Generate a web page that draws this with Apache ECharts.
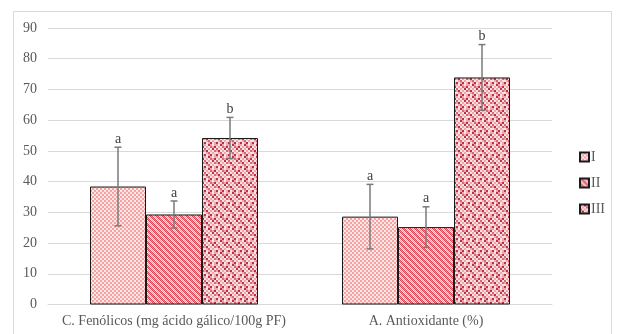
<!DOCTYPE html>
<html>
<head>
<meta charset="utf-8">
<script src="https://cdn.jsdelivr.net/npm/echarts@6/dist/echarts.min.js"></script>
<style>
html,body{margin:0;padding:0;background:#fff;}
#c{width:619px;height:334px;}
</style>
</head>
<body>
<div id="c"></div>
<script>
const categories = ['C. Fenólicos (mg ácido gálico/100g PF)', 'A. Antioxidante (%)'];
const seriesNames = ['I', 'II', 'III'];
const valuesI = [38.4, 28.6];
const valuesII = [29.3, 25.2];
const valuesIII = [54.2, 73.9];
const errorsI = [12.8, 10.5];
const errorsII = [4.4, 6.6];
const errorsIII = [6.7, 10.7];
const lettersI = ['a', 'a'];
const lettersII = ['a', 'a'];
const lettersIII = ['b', 'b'];
const yTicks = [0, 10, 20, 30, 40, 50, 60, 70, 80, 90];

function makePattern(w, h, fn) {
  const c = document.createElement('canvas');
  c.width = w; c.height = h;
  const ctx = c.getContext('2d');
  for (let y = 0; y < h; y++) for (let x = 0; x < w; x++) {
    ctx.fillStyle = fn(x, y);
    ctx.fillRect(x, y, 1, 1);
  }
  return c;
}
const patI = makePattern(4, 4, (x, y) => ((Math.floor(x/2) + Math.floor(y/2)) % 2 === 0) ? '#f4a2a2' : '#fde6e6');
const patII = makePattern(6, 6, (x, y) => {
  const d = ((x - y) % 6 + 6) % 6;
  const ch = (x + y) % 2 === 0;
  if (d < 3) return ch ? '#dc4656' : '#f08c96';
  return ch ? '#f19aa2' : '#fde4e4';
});
const blocksIII = [
  ['P','W','D','P','W','P'],
  ['W','P','W','R','P','D'],
  ['R','W','P','W','D','W'],
  ['P','D','W','P','W','R'],
  ['W','P','R','W','P','W'],
  ['D','W','P','D','W','P']
];
const colIII = {P:'#f0a6ad', W:'#fbe2e2', D:'#b83046', R:'#d46a78'};
const patIII = makePattern(12, 12, (x, y) => colIII[blocksIII[Math.floor(y/2)][Math.floor(x/2)]]);

const values = [valuesI, valuesII, valuesIII];
const errors = [errorsI, errorsII, errorsIII];
const letters = [lettersI, lettersII, lettersIII];
const patterns = [patI, patII, patIII];
const BW = 56;

const chart = echarts.init(document.getElementById('c'), null, {renderer: 'canvas'});
const series = [];
seriesNames.forEach((n, i) => {
  series.push({
    name: n, type: 'bar', data: values[i], barWidth: BW, barGap: '0%',
    itemStyle: {color: {image: patterns[i], repeat: 'repeat'}, borderColor: '#1a1a1a', borderWidth: 1},
    emphasis: {disabled: true}
  });
});
seriesNames.forEach((n, i) => {
  series.push({
    type: 'custom', z: 10, silent: true,
    data: values[i].map((v, k) => [k, v, errors[i][k], letters[i][k]]),
    renderItem: function (params, api) {
      const off = (i - 1) * BW;
      const x = api.coord([api.value(0), 0])[0] + off;
      const v = api.value(1), e = api.value(2);
      const yt = api.coord([api.value(0), v + e])[1];
      const yb = api.coord([api.value(0), v - e])[1];
      const st = {stroke: '#7a7a7a', lineWidth: 1.5};
      return {type: 'group', children: [
        {type: 'line', shape: {x1: x, y1: yt, x2: x, y2: yb}, style: st},
        {type: 'line', shape: {x1: x - 3.5, y1: yt, x2: x + 3.5, y2: yt}, style: st},
        {type: 'line', shape: {x1: x - 3.5, y1: yb, x2: x + 3.5, y2: yb}, style: st},
        {type: 'text', x: x, y: yt - 1, style: {text: letters[i][params.dataIndex], fill: '#404040', font: '14px "Liberation Serif"', align: 'center', verticalAlign: 'bottom'}}
      ]};
    }
  });
});

chart.setOption({
  animation: false,
  backgroundColor: '#ffffff',
  textStyle: {fontFamily: 'Liberation Serif'},
  graphic: [{type: 'rect', shape: {x: 13.5, y: 11.5, width: 598, height: 340}, style: {fill: 'none', stroke: '#d9d9d9', lineWidth: 1}, z: -10}],
  grid: {left: 48, right: 67, top: 28, bottom: 29.5},
  legend: {
    data: seriesNames, orient: 'vertical', left: 579, top: 150, padding: 0, icon: 'rect', itemWidth: 9, itemHeight: 9, itemGap: 12,
    textStyle: {fontFamily: 'Liberation Serif', fontSize: 14, lineHeight: 12, color: '#595959', padding: [0, 0, 0, -3]}
  },
  xAxis: {
    type: 'category', data: categories,
    axisLine: {lineStyle: {color: '#d9d9d9', width: 1}},
    axisTick: {show: false},
    axisLabel: {color: '#595959', fontSize: 14, fontFamily: 'Liberation Serif', margin: 10, interval: 0}
  },
  yAxis: {
    type: 'value', min: yTicks[0], max: yTicks[yTicks.length - 1], interval: 10,
    axisLine: {show: false}, axisTick: {show: false},
    splitLine: {lineStyle: {color: '#d9d9d9', width: 1}},
    axisLabel: {color: '#595959', fontSize: 14, fontFamily: 'Liberation Serif', margin: 11}
  },
  series: series
});
</script>
</body>
</html>
